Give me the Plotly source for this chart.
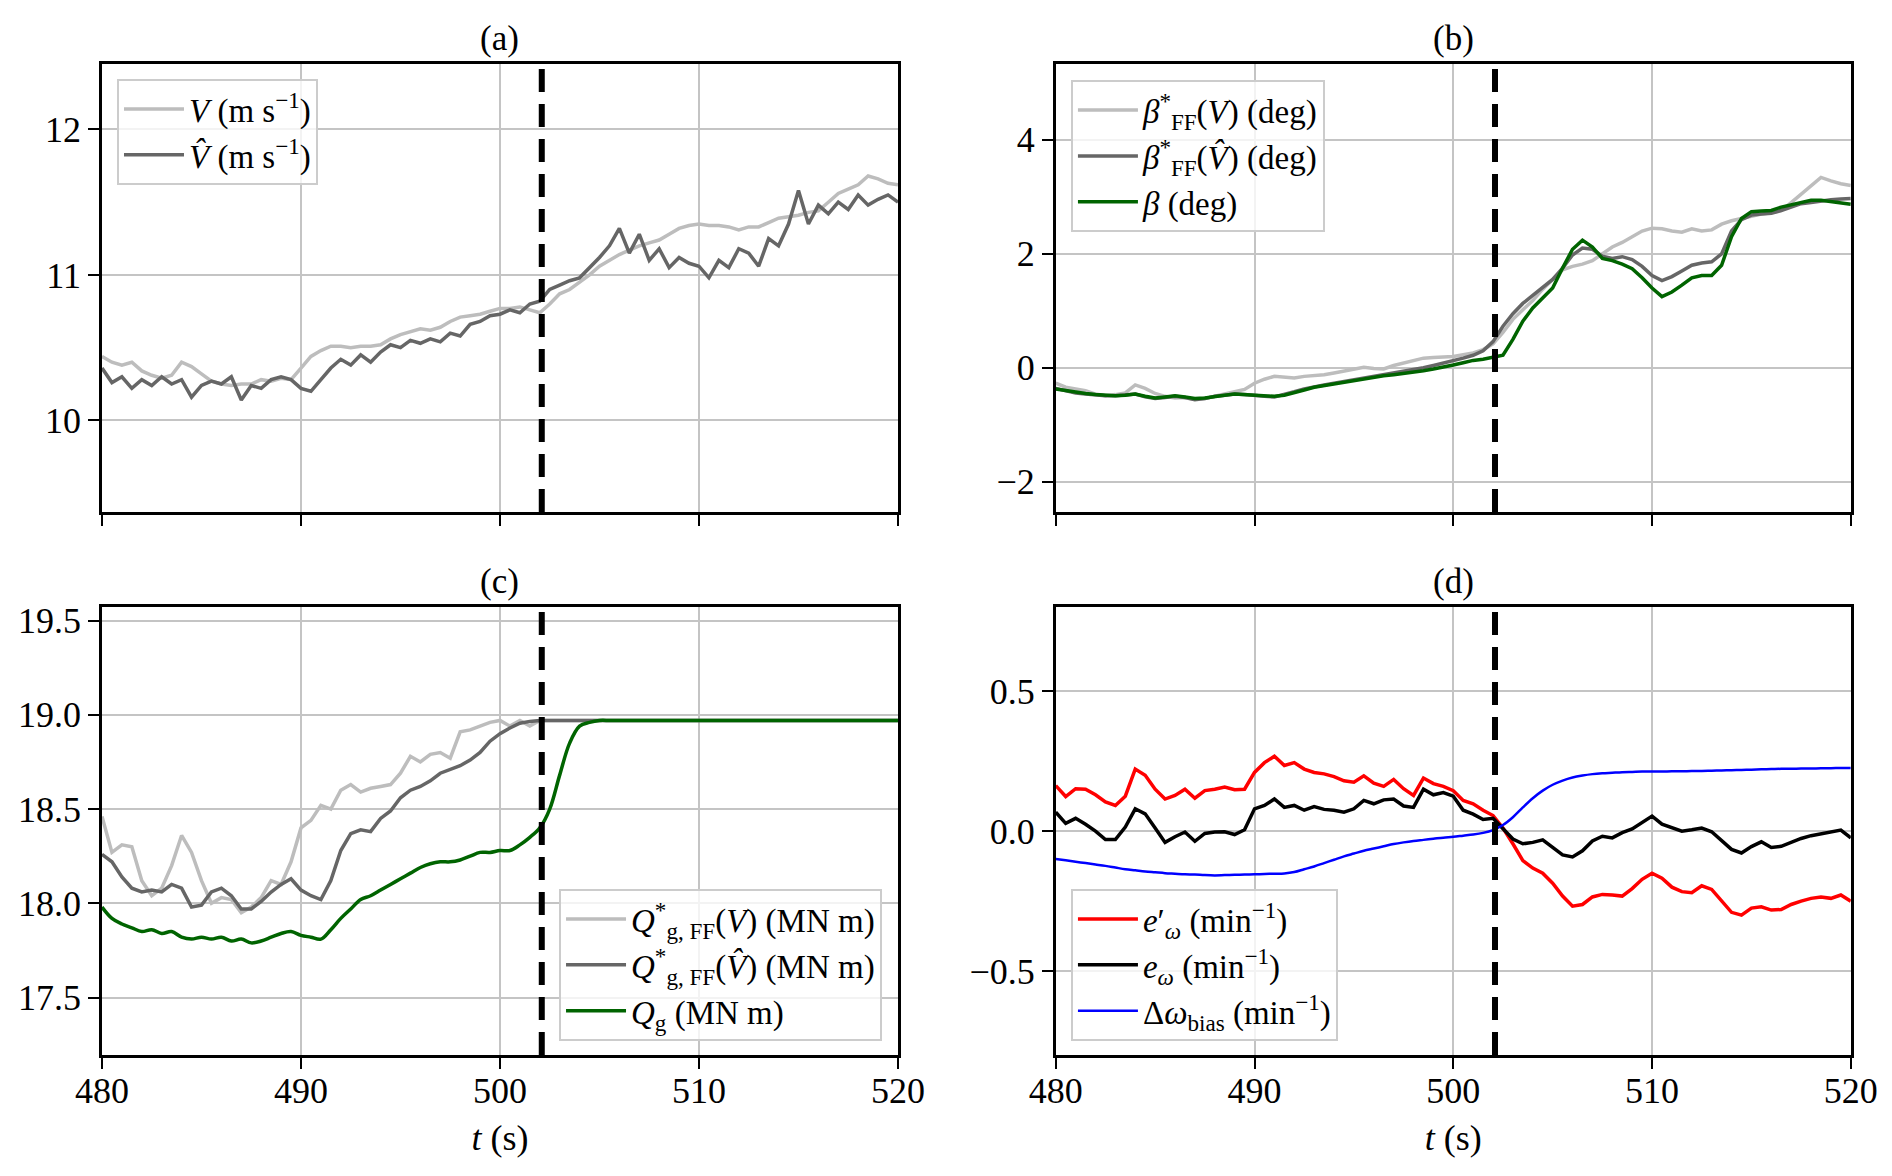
import plotly.graph_objects as go

# time grid (s)
T = [480.0, 480.5, 481.0, 481.5, 482.0, 482.5, 483.0, 483.5, 484.0, 484.5,
     485.0, 485.5, 486.0, 486.5, 487.0, 487.5, 488.0, 488.5, 489.0, 489.5,
     490.0, 490.5, 491.0, 491.5, 492.0, 492.5, 493.0, 493.5, 494.0, 494.5,
     495.0, 495.5, 496.0, 496.5, 497.0, 497.5, 498.0, 498.5, 499.0, 499.5,
     500.0, 500.5, 501.0, 501.5, 502.0, 502.5, 503.0, 503.5, 504.0, 504.5,
     505.0, 505.5, 506.0, 506.5, 507.0, 507.5, 508.0, 508.5, 509.0, 509.5,
     510.0, 510.5, 511.0, 511.5, 512.0, 512.5, 513.0, 513.5, 514.0, 514.5,
     515.0, 515.5, 516.0, 516.5, 517.0, 517.5, 518.0, 518.5, 519.0, 519.5,
     520.0]
T_SWITCH = 502.1

# (a) wind speed (m/s)
V = [10.44, 10.40, 10.38, 10.40, 10.34, 10.31, 10.29, 10.31, 10.40, 10.37,
     10.32, 10.27, 10.25, 10.24, 10.25, 10.25, 10.28, 10.27, 10.29, 10.28,
     10.36, 10.44, 10.48, 10.51, 10.51, 10.50, 10.51, 10.51, 10.52, 10.56,
     10.59, 10.61, 10.63, 10.62, 10.64, 10.68, 10.71, 10.72, 10.73, 10.75,
     10.77, 10.77, 10.78, 10.76, 10.74, 10.80, 10.87, 10.90, 10.95, 11.00,
     11.06, 11.10, 11.14, 11.17, 11.20, 11.22, 11.24, 11.28, 11.32, 11.34,
     11.35, 11.34, 11.34, 11.33, 11.31, 11.33, 11.33, 11.36, 11.39, 11.40,
     11.41, 11.43, 11.44, 11.50, 11.56, 11.59, 11.62, 11.68, 11.66, 11.63,
     11.62]
V_HAT = [10.36, 10.26, 10.30, 10.22, 10.28, 10.24, 10.30, 10.25, 10.28, 10.16,
         10.24, 10.27, 10.25, 10.30, 10.14, 10.24, 10.22, 10.28, 10.30, 10.28,
         10.22, 10.20, 10.28, 10.36, 10.42, 10.38, 10.45, 10.40, 10.47, 10.52,
         10.50, 10.55, 10.53, 10.56, 10.54, 10.60, 10.58, 10.66, 10.68, 10.72,
         10.73, 10.76, 10.74, 10.80, 10.82, 10.90, 10.93, 10.96, 10.98, 11.05,
         11.12, 11.20, 11.32, 11.15, 11.28, 11.10, 11.18, 11.05, 11.12, 11.08,
         11.06, 10.98, 11.10, 11.05, 11.18, 11.15, 11.06, 11.25, 11.20, 11.35,
         11.58, 11.35, 11.48, 11.42, 11.50, 11.45, 11.55, 11.48, 11.52, 11.55,
         11.50]

# (b) pitch (deg)
BETA_FF_V = [-0.27, -0.34, -0.37, -0.40, -0.46, -0.49, -0.47, -0.44, -0.30, -0.36,
             -0.45, -0.50, -0.53, -0.52, -0.55, -0.54, -0.50, -0.46, -0.42, -0.38,
             -0.27, -0.20, -0.15, -0.16, -0.18, -0.15, -0.14, -0.12, -0.09, -0.06,
             -0.02, 0.01, -0.01, -0.02, 0.04, 0.08, 0.12, 0.17, 0.18, 0.19,
             0.20, 0.23, 0.26, 0.32, 0.42, 0.62, 0.85, 1.02, 1.18, 1.38,
             1.55, 1.72, 1.78, 1.82, 1.88, 2.00, 2.12, 2.20, 2.30, 2.40,
             2.45, 2.44, 2.40, 2.38, 2.44, 2.40, 2.42, 2.52, 2.58, 2.62,
             2.66, 2.70, 2.72, 2.76, 2.90, 3.05, 3.20, 3.34, 3.28, 3.23,
             3.20]
BETA_FF_VHAT = [-0.36, -0.40, -0.44, -0.46, -0.48, -0.49, -0.49, -0.48, -0.46, -0.51,
                -0.54, -0.52, -0.50, -0.52, -0.56, -0.54, -0.50, -0.48, -0.46, -0.47,
                -0.49, -0.50, -0.51, -0.47, -0.42, -0.37, -0.33, -0.30, -0.27, -0.24,
                -0.21, -0.18, -0.15, -0.12, -0.10, -0.07, -0.04, 0.00, 0.04, 0.08,
                0.12, 0.17, 0.22, 0.30, 0.46, 0.73, 0.95, 1.13, 1.27, 1.42,
                1.55, 1.75, 1.98, 2.10, 2.08, 1.96, 1.92, 1.95, 1.90, 1.78,
                1.62, 1.53, 1.60, 1.70, 1.80, 1.84, 1.86, 2.00, 2.40, 2.60,
                2.68, 2.70, 2.71, 2.76, 2.82, 2.88, 2.90, 2.93, 2.95, 2.96,
                2.97]
BETA = [-0.37, -0.40, -0.43, -0.45, -0.47, -0.48, -0.49, -0.48, -0.46, -0.50,
        -0.53, -0.51, -0.49, -0.51, -0.54, -0.53, -0.50, -0.48, -0.46, -0.47,
        -0.49, -0.50, -0.50, -0.48, -0.44, -0.39, -0.34, -0.31, -0.28, -0.25,
        -0.22, -0.19, -0.16, -0.14, -0.12, -0.10, -0.08, -0.05, -0.02, 0.01,
        0.05, 0.09, 0.13, 0.15, 0.18, 0.22, 0.50, 0.82, 1.05, 1.22,
        1.40, 1.75, 2.08, 2.24, 2.12, 1.92, 1.88, 1.82, 1.74, 1.58,
        1.40, 1.25, 1.33, 1.45, 1.58, 1.62, 1.62, 1.80, 2.30, 2.62,
        2.74, 2.75, 2.76, 2.82, 2.86, 2.90, 2.94, 2.94, 2.92, 2.90,
        2.87]

# (c) generator torque (MN m)
QG_FF_V = [18.46, 18.27, 18.31, 18.30, 18.12, 18.04, 18.08, 18.20, 18.36, 18.27,
           18.12, 18.00, 18.03, 18.02, 17.95, 17.98, 18.03, 18.12, 18.10, 18.22,
           18.40, 18.44, 18.52, 18.50, 18.60, 18.63, 18.59, 18.61, 18.62, 18.63,
           18.69, 18.78, 18.75, 18.79, 18.80, 18.77, 18.91, 18.92, 18.94, 18.96,
           18.97, 18.94, 18.97, 18.94, 18.97, 18.97, 18.97, 18.97, 18.97, 18.97,
           18.97, 18.97, 18.97, 18.97, 18.97, 18.97, 18.97, 18.97, 18.97, 18.97,
           18.97, 18.97, 18.97, 18.97, 18.97, 18.97, 18.97, 18.97, 18.97, 18.97,
           18.97, 18.97, 18.97, 18.97, 18.97, 18.97, 18.97, 18.97, 18.97, 18.97,
           18.97]
QG_FF_VHAT = [18.26, 18.22, 18.14, 18.08, 18.06, 18.07, 18.06, 18.10, 18.08, 17.98,
              17.99, 18.06, 18.08, 18.04, 17.97, 17.97, 18.01, 18.06, 18.10, 18.13,
              18.07, 18.04, 18.02, 18.12, 18.28, 18.37, 18.39, 18.38, 18.45, 18.49,
              18.56, 18.60, 18.62, 18.65, 18.69, 18.71, 18.73, 18.76, 18.80, 18.86,
              18.90, 18.93, 18.955, 18.965, 18.97, 18.97, 18.97, 18.97, 18.97, 18.97,
              18.97, 18.97, 18.97, 18.97, 18.97, 18.97, 18.97, 18.97, 18.97, 18.97,
              18.97, 18.97, 18.97, 18.97, 18.97, 18.97, 18.97, 18.97, 18.97, 18.97,
              18.97, 18.97, 18.97, 18.97, 18.97, 18.97, 18.97, 18.97, 18.97, 18.97,
              18.97]
QG = [17.98, 17.92, 17.89, 17.87, 17.85, 17.86, 17.84, 17.85, 17.82, 17.81,
      17.82, 17.81, 17.82, 17.80, 17.81, 17.79, 17.80, 17.82, 17.84, 17.85,
      17.83, 17.82, 17.81, 17.86, 17.92, 17.97, 18.02, 18.04, 18.07, 18.10,
      18.13, 18.16, 18.19, 18.21, 18.22, 18.22, 18.23, 18.25, 18.27, 18.27,
      18.28, 18.28, 18.31, 18.35, 18.40, 18.50, 18.68, 18.85, 18.94, 18.96,
      18.97, 18.97, 18.97, 18.97, 18.97, 18.97, 18.97, 18.97, 18.97, 18.97,
      18.97, 18.97, 18.97, 18.97, 18.97, 18.97, 18.97, 18.97, 18.97, 18.97,
      18.97, 18.97, 18.97, 18.97, 18.97, 18.97, 18.97, 18.97, 18.97, 18.97,
      18.97]

# (d) speed errors (1/min)
E_OMEGA_P = [0.163, 0.124, 0.152, 0.150, 0.130, 0.105, 0.092, 0.125, 0.222, 0.200,
             0.150, 0.115, 0.128, 0.150, 0.118, 0.145, 0.150, 0.158, 0.148, 0.150,
             0.210, 0.245, 0.268, 0.235, 0.245, 0.222, 0.210, 0.205, 0.195, 0.180,
             0.175, 0.198, 0.172, 0.160, 0.185, 0.152, 0.128, 0.190, 0.170, 0.160,
             0.145, 0.110, 0.098, 0.075, 0.056, 0.011, -0.045, -0.105, -0.132, -0.150,
             -0.186, -0.232, -0.268, -0.262, -0.235, -0.226, -0.228, -0.232, -0.205, -0.172,
             -0.150, -0.168, -0.200, -0.216, -0.220, -0.195, -0.208, -0.250, -0.290, -0.300,
             -0.275, -0.270, -0.282, -0.280, -0.262, -0.250, -0.240, -0.235, -0.240, -0.228,
             -0.250]
E_OMEGA = [0.068, 0.028, 0.046, 0.025, 0.000, -0.030, -0.030, 0.015, 0.080, 0.062,
           0.011, -0.040, -0.020, -0.003, -0.036, -0.008, -0.003, -0.002, -0.012, 0.005,
           0.080, 0.092, 0.115, 0.085, 0.092, 0.075, 0.088, 0.078, 0.075, 0.068,
           0.080, 0.110, 0.098, 0.112, 0.115, 0.090, 0.085, 0.150, 0.130, 0.138,
           0.125, 0.075, 0.061, 0.042, 0.046, 0.011, -0.028, -0.045, -0.040, -0.031,
           -0.059, -0.085, -0.092, -0.070, -0.035, -0.018, -0.024, -0.005, 0.008, 0.030,
           0.054, 0.025, 0.012, 0.000, 0.005, 0.011, -0.002, -0.035, -0.065, -0.078,
           -0.055, -0.038, -0.058, -0.054, -0.040, -0.026, -0.016, -0.010, -0.004, 0.004,
           -0.024]
D_OMEGA_BIAS = [-0.099, -0.104, -0.109, -0.114, -0.119, -0.124, -0.130, -0.136, -0.140, -0.144,
                -0.147, -0.150, -0.152, -0.154, -0.155, -0.157, -0.158, -0.157, -0.156, -0.155,
                -0.154, -0.153, -0.152, -0.151, -0.146, -0.136, -0.126, -0.114, -0.102, -0.090,
                -0.080, -0.070, -0.062, -0.054, -0.046, -0.040, -0.035, -0.031, -0.027, -0.023,
                -0.020, -0.016, -0.012, -0.006, 0.004, 0.022, 0.050, 0.085, 0.118, 0.145,
                0.166, 0.181, 0.192, 0.199, 0.204, 0.207, 0.209, 0.211, 0.212, 0.213,
                0.213, 0.213, 0.214, 0.214, 0.215, 0.215, 0.216, 0.217, 0.218, 0.219,
                0.220, 0.221, 0.222, 0.223, 0.223, 0.224, 0.224, 0.225, 0.225, 0.226,
                0.226]

LIGHT = "#bdbdbd"
DARK = "#666666"
GREEN = "#006400"
FONT = "Liberation Serif"
SUP = "<sup>\u22121</sup>"

fig = go.Figure()

def line(x, y, name, color, width, ax, leg, shape="linear"):
    fig.add_trace(go.Scatter(
        x=x, y=y, name=name, mode="lines",
        line=dict(color=color, width=width, shape=shape),
        xaxis="x" + ax, yaxis="y" + ax, legend=leg,
    ))

line(T, V, f"<i>V</i> (m s{SUP})", LIGHT, 3.5, "", "legend")
line(T, V_HAT, f"<i>V\u0302</i> (m s{SUP})", DARK, 3.5, "", "legend")

line(T, BETA_FF_V, "<i>β</i><sup>*</sup><sub>FF</sub>(<i>V</i>) (deg)", LIGHT, 3.5, "2", "legend2")
line(T, BETA_FF_VHAT, "<i>β</i><sup>*</sup><sub>FF</sub>(<i>V\u0302</i>) (deg)", DARK, 3.5, "2", "legend2")
line(T, BETA, "<i>β</i> (deg)", GREEN, 3.5, "2", "legend2")

line(T, QG_FF_V, "<i>Q</i><sup>*</sup><sub>g, FF</sub>(<i>V</i>) (MN m)", LIGHT, 3.5, "3", "legend3")
line(T, QG_FF_VHAT, "<i>Q</i><sup>*</sup><sub>g, FF</sub>(<i>V\u0302</i>) (MN m)", DARK, 3.5, "3", "legend3")
line(T, QG, "<i>Q</i><sub>g</sub> (MN m)", GREEN, 3.5, "3", "legend3", "spline")

line(T, E_OMEGA_P, f"<i>e</i>\u2032<sub><i>ω</i></sub> (min{SUP})", "#ff0000", 3.5, "4", "legend4")
line(T, E_OMEGA, f"<i>e</i><sub><i>ω</i></sub> (min{SUP})", "#000000", 3.5, "4", "legend4")
line(T, D_OMEGA_BIAS, f"Δ<i>ω</i><sub>bias</sub> (min{SUP})", "#0000ff", 2.5, "4", "legend4", "spline")

# switching instant
for ax in ["", "2", "3", "4"]:
    fig.add_shape(type="line", xref="x" + ax, yref="y" + ax + " domain",
                  x0=T_SWITCH, x1=T_SWITCH, y0=0, y1=1,
                  line=dict(color="black", width=6, dash="23px,12px"))

# page body adds an 8px margin, so the figure is 1876x1160
X_LEFT = [0.0501, 0.4744]
X_RIGHT = [0.5585, 0.9823]
Y_TOP = [0.5655, 0.9517]
Y_BOT = [0.0974, 0.4833]

axis_common = dict(
    showline=True, linecolor="black", linewidth=2.5, mirror=True,
    ticks="outside", ticklen=11, tickwidth=2, tickcolor="black",
    showgrid=True, gridcolor="#c4c4c4", gridwidth=2, zeroline=False,
    automargin=False,
    tickfont=dict(family=FONT, size=36, color="black"),
)
xcommon = dict(axis_common, range=[480, 520], tickvals=[480, 490, 500, 510, 520],
               ticklabelstandoff=-9)
xtitle = dict(text="<i>t</i> (s)", font=dict(family=FONT, size=36, color="black"), standoff=15)

legend_common = dict(
    bgcolor="rgba(255,255,255,0.8)", bordercolor="#cccccc", borderwidth=2,
    font=dict(family=FONT, size=33, color="black"), itemwidth=60,
)

fig.update_layout(
    width=1876, height=1160,
    margin=dict(l=0, r=0, t=0, b=0, autoexpand=False),
    paper_bgcolor="white", plot_bgcolor="white",
    font=dict(family=FONT, color="black"),
    xaxis=dict(xcommon, domain=X_LEFT, anchor="y", showticklabels=False),
    yaxis=dict(axis_common, domain=Y_TOP, anchor="x", range=[9.37, 12.45], tickvals=[10, 11, 12]),
    xaxis2=dict(xcommon, domain=X_RIGHT, anchor="y2", showticklabels=False),
    yaxis2=dict(axis_common, domain=Y_TOP, anchor="x2", range=[-2.53, 5.33], tickvals=[-2, 0, 2, 4]),
    xaxis3=dict(xcommon, domain=X_LEFT, anchor="y3", title=xtitle),
    yaxis3=dict(axis_common, domain=Y_BOT, anchor="x3", range=[17.195, 19.57],
                tickvals=[17.5, 18.0, 18.5, 19.0, 19.5], tickformat=".1f"),
    xaxis4=dict(xcommon, domain=X_RIGHT, anchor="y4", title=xtitle),
    yaxis4=dict(axis_common, domain=Y_BOT, anchor="x4", range=[-0.8, 0.8],
                tickvals=[-0.5, 0.0, 0.5], tickformat=".1f"),
    legend=dict(legend_common, x=0.0581, y=0.9388, xanchor="left", yanchor="top"),
    legend2=dict(legend_common, x=0.5666, y=0.9379, xanchor="left", yanchor="top"),
    legend3=dict(legend_common, x=0.4659, y=0.1095, xanchor="right", yanchor="bottom"),
    legend4=dict(legend_common, x=0.5666, y=0.1095, xanchor="left", yanchor="bottom"),
    showlegend=True,
)

titles = [("(a)", sum(X_LEFT) / 2, 0.9733), ("(b)", sum(X_RIGHT) / 2, 0.9733),
          ("(c)", sum(X_LEFT) / 2, 0.5052), ("(d)", sum(X_RIGHT) / 2, 0.5052)]
for text, xc, yc in titles:
    fig.add_annotation(text=text, x=xc, y=yc, xref="paper", yref="paper",
                       xanchor="center", yanchor="middle", showarrow=False,
                       font=dict(family=FONT, size=35, color="black"))

fig.write_html("out.html")
